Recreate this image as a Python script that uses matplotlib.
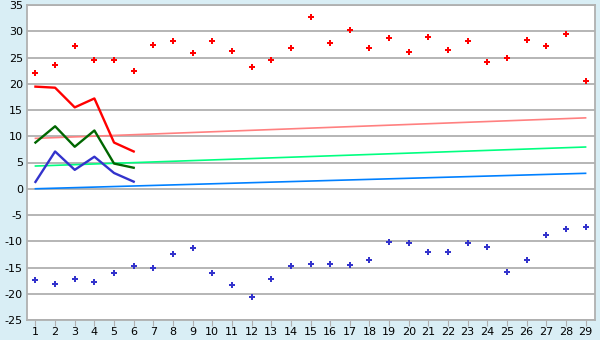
import numpy as np
import matplotlib
matplotlib.use("Agg")
import matplotlib.pyplot as plt

plt.rcParams["axes.unicode_minus"] = False

days = list(range(1, 30))

# daily maxima / minima (points)
high_pts = [22.0, 23.5, 27.1, 24.5, 24.5, 22.4, 27.3, 28.1, 25.8, 28.1,
            26.2, 23.1, 24.6, 26.75, 32.65, 27.7, 30.2, 26.9, 28.65, 26.0,
            28.85, 26.4, 28.1, 24.1, 25.0, 28.3, 27.1, 29.4, 20.5]
low_pts = [-17.4, -18.1, -17.1, -17.8, -16.1, -14.8, -15.0, -12.5, -11.2, -16.1,
           -18.4, -20.7, -17.25, -14.8, -14.4, -14.4, -14.6, -13.6, -10.2, -10.4,
           -12.1, -12.1, -10.4, -11.0, -15.9, -13.6, -8.9, -7.7, -7.2]

# first six days lines
line_days = [1, 2, 3, 4, 5, 6]
red_line = [19.45, 19.25, 15.5, 17.2, 8.8, 7.1]
green_line = [8.8, 11.9, 8.0, 11.1, 4.8, 4.0]
blue_line = [1.3, 7.1, 3.6, 6.1, 3.0, 1.35]

# trend lines (start, end)
trend_days = [1, 29]
red_trend = [9.6, 13.5]
green_trend = [4.33, 7.95]
blue_trend = [0.0, 2.94]

yticks = list(range(-25, 40, 5))

bg = "#d9eef5"
grid_c = "#b0b0b0"

fig = plt.figure(figsize=(6, 3.4), dpi=100, facecolor=bg)
ax = fig.add_axes([27/600, 20/340, 568/600, 315/340])
ax.set_facecolor("white")

for y in yticks:
    ax.axhline(y, color=grid_c, lw=1.3, zorder=1)

ax.plot(trend_days, red_trend, color="#ff8080", lw=1.2, zorder=2)
ax.plot(trend_days, green_trend, color="#00ff80", lw=1.2, zorder=2)
ax.plot(trend_days, blue_trend, color="#0080ff", lw=1.2, zorder=2)

ax.plot(line_days, red_line, color="#ff0000", lw=1.7, zorder=3)
ax.plot(line_days, green_line, color="#006600", lw=1.7, zorder=3)
ax.plot(line_days, blue_line, color="#3333cc", lw=1.7, zorder=3)

ax.plot(days, high_pts, ls="none", marker="P", ms=5, color="#ff0000",
        mec="#ff0000", mew=0, zorder=4)
ax.plot(days, low_pts, ls="none", marker="P", ms=5, color="#3333cc",
        mec="#3333cc", mew=0, zorder=4)

ax.set_xlim(0.57, 29.48)
ax.set_ylim(-25, 35)
ax.set_xticks(days)
ax.set_yticks(yticks)
ax.tick_params(axis="x", length=4, color=grid_c, labelsize=8, pad=1)
ax.tick_params(axis="y", length=0, labelsize=8, pad=3)
for s in ax.spines.values():
    s.set_color(grid_c)
    s.set_linewidth(1.3)

fig.savefig("out.png", dpi=100, facecolor=bg)
